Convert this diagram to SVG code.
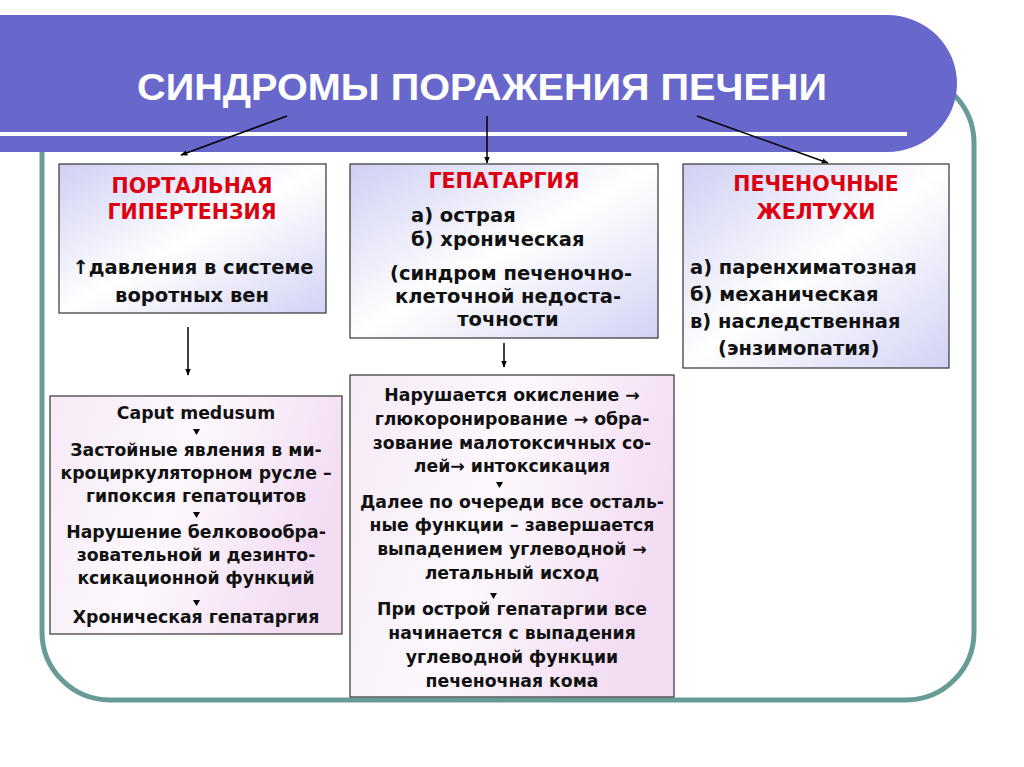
<svg xmlns="http://www.w3.org/2000/svg" width="1024" height="767" viewBox="0 0 1024 767">
<defs>
<linearGradient id="gTop" x1="0" y1="0" x2="1" y2="1">
<stop offset="0" stop-color="#CFCFF3"/>
<stop offset="0.5" stop-color="#FFFFFF"/>
<stop offset="1" stop-color="#D2D2F4"/>
</linearGradient>
<linearGradient id="gBot" x1="0" y1="0" x2="1" y2="0.3">
<stop offset="0" stop-color="#F6EAF6"/>
<stop offset="0.5" stop-color="#FDF8FD"/>
<stop offset="1" stop-color="#F3DDF3"/>
</linearGradient>
<marker id="ah" viewBox="0 0 10 10" refX="9" refY="5" markerWidth="7" markerHeight="7" orient="auto" markerUnits="userSpaceOnUse">
<path d="M0,1 L10,5 L0,9 Z" fill="#000"/>
</marker>
</defs>
<style>
.box{stroke:#333;stroke-width:1.2}
.t{font-family:"DejaVu Sans",Verdana,sans-serif;font-weight:bold;font-size:17.3px;fill:#111}
.u{font-family:"DejaVu Sans",Verdana,sans-serif;font-weight:bold;font-size:19.5px;fill:#111}
.r{font-family:"DejaVu Sans",Verdana,sans-serif;font-weight:bold;font-size:20.5px;fill:#DD0011}
.c{text-anchor:middle}
.conn{stroke:#000;stroke-width:1.5;fill:none}
.tri{fill:#000}
</style>
<rect width="1024" height="767" fill="#FFFFFF"/>
<rect x="42" y="75" width="932" height="625" rx="68" ry="68" fill="none" stroke="#669B96" stroke-width="5"/>
<g id="header">
<path d="M0,15 H887 A70,68.5 0 0 1 887,152 H0 Z" fill="#6767CC"/>
<rect x="0" y="132" width="907" height="4" fill="#FFFFFF"/>
<text x="482" y="100" font-family="Liberation Sans,Arial,sans-serif" font-weight="bold" font-size="36" fill="#FFFFFF" text-anchor="middle" textLength="690" lengthAdjust="spacingAndGlyphs">СИНДРОМЫ ПОРАЖЕНИЯ ПЕЧЕНИ</text>
</g>
<g id="connectors">
<line class="conn" x1="287" y1="116" x2="181" y2="155" marker-end="url(#ah)"/>
<line class="conn" x1="487" y1="116" x2="487" y2="163" marker-end="url(#ah)"/>
<line class="conn" x1="697" y1="116" x2="828" y2="163" marker-end="url(#ah)"/>
<line class="conn" x1="188" y1="327" x2="188" y2="375" marker-end="url(#ah)"/>
<line class="conn" x1="504" y1="343" x2="504" y2="367" marker-end="url(#ah)"/>
</g>
<g id="portal">
<rect class="box" x="59" y="164" width="267" height="149" fill="url(#gTop)"/>
<text class="r c" x="192" y="193">ПОРТАЛЬНАЯ</text>
<text class="r c" x="192" y="219">ГИПЕРТЕНЗИЯ</text>
<text class="u c" x="193" y="274">↑давления в системе</text>
<text class="u c" x="192" y="302">воротных вен</text>
</g>
<g id="hepatargia">
<rect class="box" x="350" y="164" width="308" height="174" fill="url(#gTop)"/>
<text class="r c" x="504" y="188">ГЕПАТАРГИЯ</text>
<text class="u" x="411" y="222">а) острая</text>
<text class="u" x="411" y="246">б) хроническая</text>
<text class="u c" x="511" y="280">(синдром печеночно-</text>
<text class="u c" x="508" y="303">клеточной недоста-</text>
<text class="u c" x="508" y="326">точности</text>
</g>
<g id="jaundice">
<rect class="box" x="683" y="164" width="266" height="204" fill="url(#gTop)"/>
<text class="r c" x="816" y="191">ПЕЧЕНОЧНЫЕ</text>
<text class="r c" x="816" y="219">ЖЕЛТУХИ</text>
<text class="u" x="690" y="274">а) паренхиматозная</text>
<text class="u" x="690" y="301">б) механическая</text>
<text class="u" x="690" y="328">в) наследственная</text>
<text class="u" x="718" y="355">(энзимопатия)</text>
</g>
<g id="portal-effects">
<rect class="box" x="50" y="396" width="292" height="238" fill="url(#gBot)"/>
<text class="t c" x="196" y="419">Caput medusum</text>
<path class="tri" d="M193,429 h7 l-3.5,6 z"/>
<text class="t c" x="196" y="456">Застойные явления в ми-</text>
<text class="t c" x="196" y="479">кроциркуляторном русле –</text>
<text class="t c" x="196" y="502">гипоксия гепатоцитов</text>
<path class="tri" d="M193,512 h7 l-3.5,6 z"/>
<text class="t c" x="196" y="538">Нарушение белковообра-</text>
<text class="t c" x="196" y="561">зовательной и дезинто-</text>
<text class="t c" x="196" y="584">ксикационной функций</text>
<path class="tri" d="M193,600 h7 l-3.5,6 z"/>
<text class="t c" x="196" y="623">Хроническая гепатаргия</text>
</g>
<g id="hepatargia-effects">
<rect class="box" x="350" y="375" width="324" height="322" fill="url(#gBot)"/>
<text class="t c" x="512" y="401">Нарушается окисление →</text>
<text class="t c" x="512" y="425">глюкоронирование → обра-</text>
<text class="t c" x="512" y="449">зование малотоксичных со-</text>
<text class="t c" x="512" y="472">лей→ интоксикация</text>
<path class="tri" d="M496,482 h7 l-3.5,6 z"/>
<text class="t c" x="512" y="508">Далее по очереди все осталь-</text>
<text class="t c" x="512" y="531">ные функции – завершается</text>
<text class="t c" x="512" y="555">выпадением углеводной →</text>
<text class="t c" x="512" y="579">летальный исход</text>
<path class="tri" d="M490,593 h7 l-3.5,6 z"/>
<text class="t c" x="512" y="615">При острой гепатаргии все</text>
<text class="t c" x="512" y="639">начинается с выпадения</text>
<text class="t c" x="512" y="663">углеводной функции</text>
<text class="t c" x="512" y="687">печеночная кома</text>
</g>
</svg>
